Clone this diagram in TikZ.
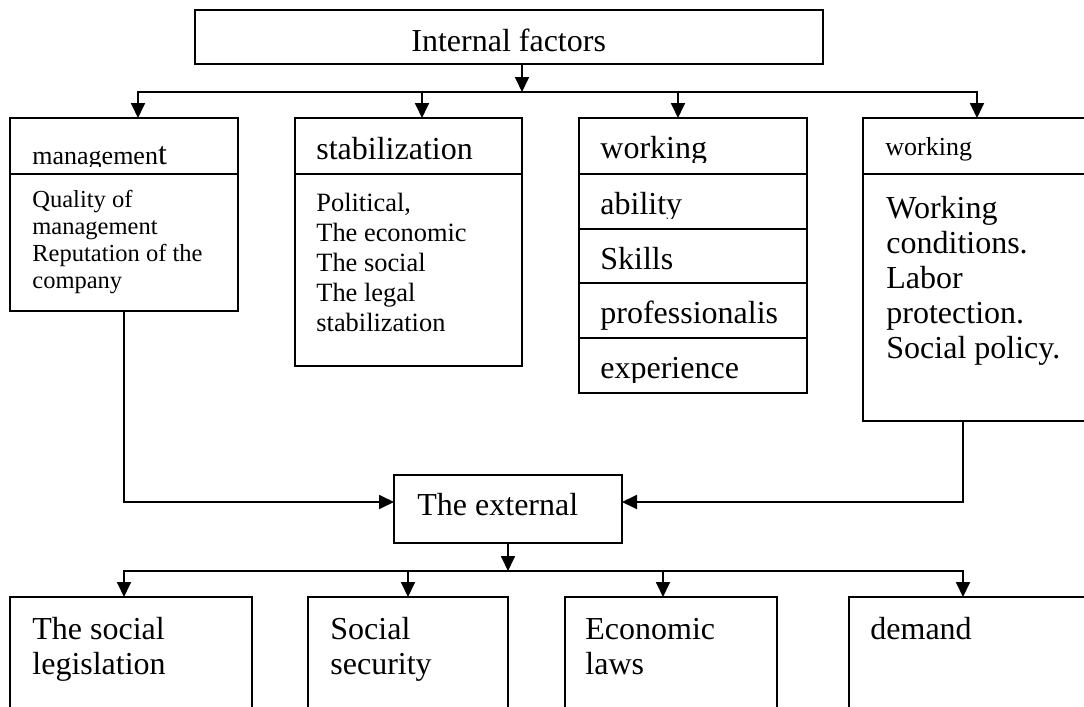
\documentclass[tikz,border=0pt]{standalone}
\usepackage{fontspec}
\setmainfont{Liberation Serif}
\usetikzlibrary{arrows.meta,positioning}
\tikzset{
  factorbox/.style={draw, line width=0.9pt, inner sep=0pt, outer sep=0pt, anchor=north west},
  txt/.style={anchor=base west, inner sep=0pt, align=left},
  flow/.style={line width=0.9pt, -{Triangle[length=7.5pt,width=7pt]}},
  link/.style={line width=0.9pt, line cap=rect},
}
\newcommand{\fbig}{\fontsize{16}{17.5}\selectfont}
\newcommand{\fmid}{\fontsize{13.2}{15}\selectfont}
\newcommand{\fsmall}{\fontsize{12.25}{13.5}\selectfont}
\newcommand{\fhead}{\fontsize{13}{15}\selectfont}

\begin{document}
\begin{tikzpicture}[x=0.5pt, y=-0.5pt]
  \useasboundingbox (0,0) rectangle (1084,707);
  % internal factors
  \node[factorbox, minimum width=314pt, minimum height=27pt] (top) at (195,10) {};
  \node[txt, font=\fbig] (toptxt) at (411,51) {Internal factors};
  % four factor boxes
  \node[factorbox, minimum width=114pt, minimum height=96.5pt] (mgmt) at (10,118) {};
  \node[factorbox, minimum width=113.5pt, minimum height=124pt] (stab) at (295,118) {};
  \node[factorbox, minimum width=114pt, minimum height=137.5pt] (work) at (579,118) {};
  \node[factorbox, minimum width=116pt, minimum height=151.5pt] (cond) at (863,118) {};
  % dividers
  \foreach \n in {mgmt,stab,cond}
    \draw[link] (\n.west |- 0,174) -- (\n.east |- 0,174);
  \foreach \y in {174,229,283,338}
    \draw[link] (work.west |- 0,\y) -- (work.east |- 0,\y);
  % management (multi-line texts sit on their last baseline)
  \begin{scope}
    \clip (10,118) rectangle (238,166);
    \node[txt] (mgmthead) at (32,164) {\fhead managemen{\fbig t}};
  \end{scope}
  \node[txt, font=\fsmall] (mgmtbody) at (32,288) {Quality of\\management\\Reputation of the\\company};
  % stabilization
  \node[txt, font=\fbig] (stabhead) at (316,159) {stabilization};
  \node[txt, font=\fmid] (stabbody) at (316,331) {Political,\\The economic\\The social\\The legal\\stabilization};
  % working abilities
  \foreach \y/\t in {118/working,174/ability,338/experience}{
    \begin{scope}
      \clip (579,\y) rectangle (807,\y+44);
      \node[txt, font=\fbig] (w\y) at (600,\y+40) {\t};
    \end{scope}
  }
  \node[txt, font=\fbig] (skills) at (600,269) {Skills};
  \node[txt, font=\fbig] (prof) at (600,323) {professionalis};
  % working conditions
  \node[txt, font=\fhead] (condhead) at (885,155) {working};
  \node[txt, font=\fbig] (condbody) at (886,358) {Working\\conditions.\\Labor\\protection.\\Social policy.};
  % external factors
  \node[factorbox, minimum width=114pt, minimum height=34pt] (ext) at (394,475) {};
  \node[txt, font=\fbig] (exttxt) at (417,515) {The external};
  \node[factorbox, minimum width=121pt, minimum height=55.6pt] (soc) at (10,597) {};
  \node[factorbox, minimum width=100pt, minimum height=55.6pt] (sec) at (308,597) {};
  \node[factorbox, minimum width=106pt, minimum height=55.6pt] (eco) at (565,597) {};
  \node[factorbox, minimum width=123pt, minimum height=55.6pt] (dem) at (849,597) {};
  \node[txt, font=\fbig] (soctxt) at (32,674) {The social\\legislation};
  \node[txt, font=\fbig] (sectxt) at (330,674) {Social\\security};
  \node[txt, font=\fbig] (ecotxt) at (585,674) {Economic\\laws};
  \node[txt, font=\fbig] (demtxt) at (870,639) {demand};
  % upper connectors
  \coordinate (busI) at (522,92);
  \coordinate (busL) at (138,92);
  \coordinate (busR) at (977,92);
  \draw[flow] (top.south -| busI) -- (busI);
  \draw[link] (busL) -- (busR);
  \foreach \x/\n in {138/mgmt,422/stab,678/work,977/cond}
    \draw[flow] (\x,92) -- (\x,0 |- \n.north);
  % into the external box
  \draw[flow] (mgmt.south) |- ([yshift=3.5pt]ext.west);
  \draw[flow] (cond.south -| 963,0) |- ([yshift=3.5pt]ext.east);
  % lower connectors
  \coordinate (busE) at (508,571);
  \coordinate (busEL) at (124,571);
  \coordinate (busER) at (963,571);
  \draw[flow] (ext.south) -- (busE);
  \draw[link] (busEL) -- (busER);
  \foreach \x/\n in {124/soc,408/sec,663/eco,963/dem}
    \draw[flow] (\x,571) -- (\x,0 |- \n.north);
\end{tikzpicture}
\end{document}
